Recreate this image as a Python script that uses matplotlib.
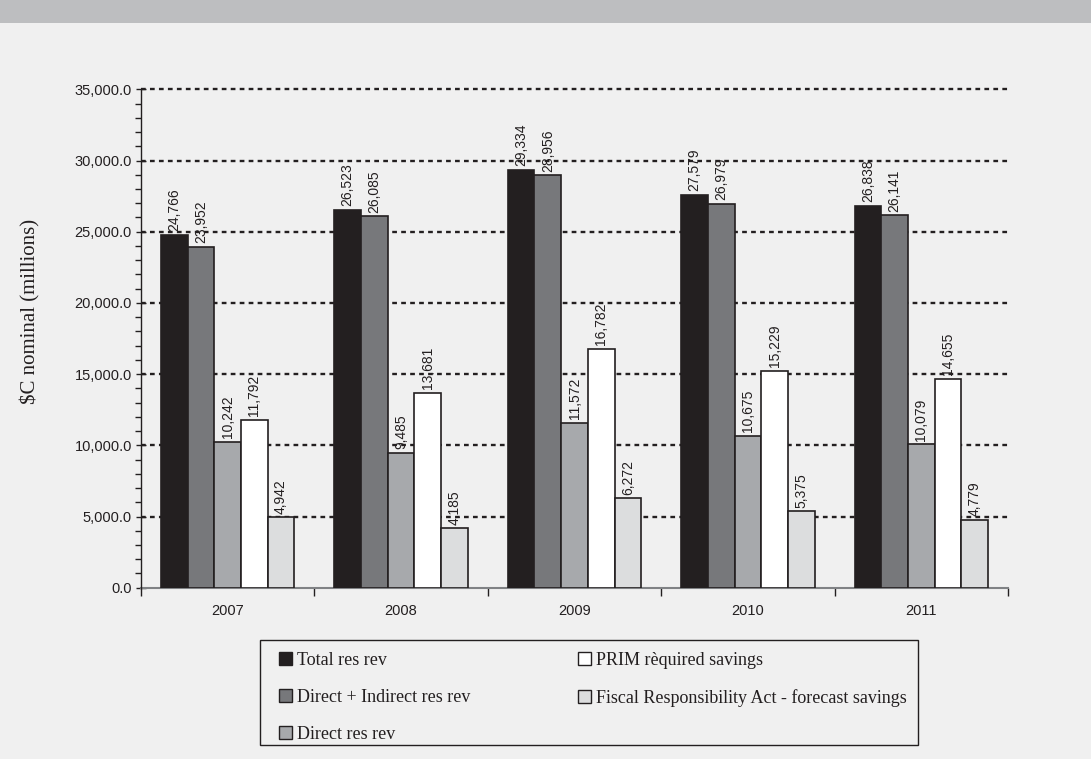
import numpy as np
import matplotlib
matplotlib.use("Agg")
import matplotlib.pyplot as plt
from matplotlib.patches import Rectangle, Patch
from matplotlib.ticker import MultipleLocator, FuncFormatter, FixedLocator, NullFormatter

# ---- data ----
years = ["2007", "2008", "2009", "2010", "2011"]
total_res_rev = [24766, 26523, 29334, 27579, 26838]
direct_indirect_res_rev = [23952, 26085, 28956, 26979, 26141]
direct_res_rev = [10242, 9485, 11572, 10675, 10079]
prim_required_savings = [11792, 13681, 16782, 15229, 14655]
fra_forecast_savings = [4942, 4185, 6272, 5375, 4779]

series_names = [
    "Total res rev",
    "Direct + Indirect res rev",
    "Direct res rev",
    "PRIM rèquired savings",
    "Fiscal Responsibility Act - forecast savings",
]
series_values = [total_res_rev, direct_indirect_res_rev, direct_res_rev,
                 prim_required_savings, fra_forecast_savings]
series_colors = ["#231f20", "#77787b", "#a7a9ac", "#ffffff", "#dcddde"]

BG = "#f0f0f0"
INK = "#231f20"
SANS = ["Liberation Sans", "DejaVu Sans"]
SERIF = ["Liberation Serif", "DejaVu Serif"]
plt.rcParams["font.family"] = SANS

W, H = 1091, 759
fig = plt.figure(figsize=(W / 100, H / 100), dpi=100, facecolor=BG)

# grey band across the top
fig.patches.append(Rectangle((0, 1 - 23 / H), 1, 23 / H, transform=fig.transFigure,
                             facecolor="#bdbec0", edgecolor="none", zorder=0))

ax_left, ax_right, ax_bottom_px, ax_top_px = 141, 1008, 587.7, 89.3
ax = fig.add_axes([ax_left / W, 1 - ax_bottom_px / H,
                   (ax_right - ax_left) / W, (ax_bottom_px - ax_top_px) / H])
ax.set_facecolor(BG)

x = np.arange(len(years))
bar_w = 0.154
n = len(series_values)
for i, (vals, color, name) in enumerate(zip(series_values, series_colors, series_names)):
    pos = x + (i - (n - 1) / 2) * bar_w
    ax.bar(pos, vals, width=bar_w, color=color, edgecolor=INK, linewidth=1.2,
           zorder=3, label=name)
    for px, v in zip(pos, vals):
        ax.text(px, v + 250, f"{v:,}", rotation=90, ha="center", va="bottom",
                fontsize=10, color=INK, zorder=4)

ax.set_xlim(-0.5, len(years) - 0.5)
ax.set_ylim(0, 35000)

# dotted horizontal gridlines
for v in range(5000, 35001, 5000):
    ax.axhline(v, color=INK, linewidth=1.7, linestyle=(0, (2.0, 1.8)),
               zorder=1, clip_on=False)

# y axis
ax.yaxis.set_major_locator(MultipleLocator(5000))
ax.yaxis.set_minor_locator(MultipleLocator(1000))
ax.yaxis.set_major_formatter(FuncFormatter(lambda v, p: f"{v:,.1f}"))
ax.tick_params(axis="y", which="major", direction="inout", length=7, width=1,
               color=INK, labelsize=10.5, labelcolor=INK, pad=3)
ax.tick_params(axis="y", which="minor", direction="out", length=4, width=1, color=INK)

# x axis: ticks on category boundaries, labels centred
ax.xaxis.set_major_locator(FixedLocator(np.arange(-0.5, len(years), 1.0)))
ax.xaxis.set_major_formatter(NullFormatter())
ax.xaxis.set_minor_locator(FixedLocator(x))
ax.set_xticklabels(years, minor=True)
ax.tick_params(axis="x", which="major", direction="out", length=6, width=1, color=INK)
ax.tick_params(axis="x", which="minor", length=0, labelsize=10.5, labelcolor=INK, pad=12)

for s in ("top", "right"):
    ax.spines[s].set_visible(False)
ax.spines["left"].set_color(INK)
ax.spines["left"].set_linewidth(1.0)
ax.spines["bottom"].set_color("#808285")
ax.spines["bottom"].set_linewidth(1.5)
ax.spines["bottom"].set_zorder(2)

fig.text(30 / W, 1 - 311 / H, "$C nominal (millions)", rotation=90,
         ha="center", va="center", family=SERIF, fontsize=15, color=INK)

# legend with a square frame
fig.patches.append(Rectangle((260 / W, 1 - 745 / H), (918 - 260) / W, (745 - 640) / H,
                             transform=fig.transFigure, facecolor=BG,
                             edgecolor=INK, linewidth=1.0, zorder=1))
handles = [Patch(facecolor=c, edgecolor=INK, linewidth=1.0) for c in series_colors]
leg = fig.legend(handles, series_names, ncol=2, loc="upper left",
                 bbox_to_anchor=(279 / W, 1 - 652 / H), frameon=False,
                 borderpad=0, borderaxespad=0, prop={"family": SERIF, "size": 13},
                 handlelength=0.72, handleheight=0.72, handletextpad=0.25,
                 columnspacing=6.0, labelspacing=1.1, labelcolor=INK)
leg.set_zorder(2)

fig.savefig("out.png", dpi=100, facecolor=BG)
